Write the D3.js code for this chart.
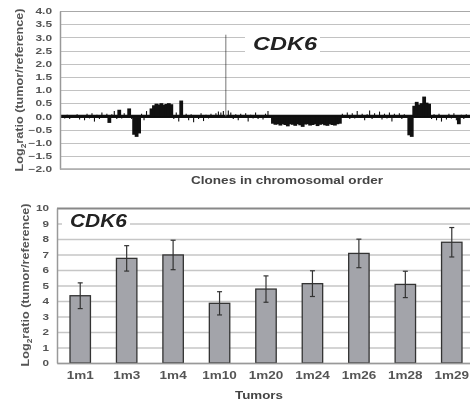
<!DOCTYPE html>
<html>
<head>
<meta charset="utf-8">
<script src="https://cdn.jsdelivr.net/npm/d3@7"></script>
<style>
  body { margin: 0; background: #fff; }
  svg { display: block; font-family: Arial, "Liberation Sans", sans-serif; }
  .axis .tick text { font-weight: bold; fill: #555; }
</style>
</head>
<body>
<script>
// top panel: log2 ratio per clone, in chromosomal order
var cloneLog2 = [
  0.05, -0.08, 0.06, -0.1, 0.04, -0.06, 0.08, -0.12, 0.05, -0.15, 0.1, -0.08, 0.12, -0.2, 0.06,
  -0.1, 0.15, -0.05, 0.1, -0.25, 0.08, 0.2, -0.1, 0.25, -0.08, 0.12, -0.06, 0.3, -0.1,
  -0.7, -0.78, -0.65,
  0.1, -0.15, 0.2, 0.05,
  0.3, 0.42, 0.48, 0.45, 0.5, 0.44, 0.47, 0.5, 0.46,
  -0.1, 0.15, -0.2, 0.6, -0.05, 0.1, -0.15, 0.08, -0.22, 0.05, -0.1, 0.12, -0.18, 0.06, -0.08, 0.1, -0.05,
  0.12, 0.18, 0.15, 0.2, 3.1, 0.22, 0.15,
  -0.1, 0.08, -0.15, 0.1, -0.05, 0.12, -0.2, 0.06, -0.08, 0.15, -0.1, 0.05, -0.12, 0.1, 0.2, -0.05,
  -0.28, -0.32, -0.3, -0.35, -0.3, -0.33, -0.38, -0.3, -0.32, -0.36, -0.3, -0.34, -0.4, -0.31,
  -0.3, -0.35, -0.33, -0.3, -0.37, -0.32, -0.3, -0.34, -0.36, -0.3, -0.33, -0.35, -0.3, -0.28,
  0.1, -0.05, 0.15, -0.1, 0.12, -0.08, 0.2, -0.06, 0.1, -0.15, 0.08, 0.22, -0.1, 0.12, -0.05,
  0.18, -0.12, 0.1, -0.08, 0.15, -0.2, 0.1, -0.05, 0.12, -0.1, 0.08, -0.06,
  -0.72, -0.78,
  0.4, 0.55, 0.45, 0.5, 0.75, 0.52, 0.48,
  -0.1, 0.08, -0.15, 0.1, -0.2, 0.05, -0.12, 0.1, -0.08, 0.12, -0.15, -0.3, 0.06, -0.1, 0.08, -0.05
];
var topTicks = [-2, -1.5, -1, -0.5, 0, 0.5, 1, 1.5, 2, 2.5, 3, 3.5, 4];

// bottom panel: mean log2 ratio per tumor with error
var tumors = ["1m1", "1m3", "1m4", "1m10", "1m20", "1m24", "1m26", "1m28", "1m29"];
var tumorMeans = [4.34, 6.75, 6.97, 3.85, 4.77, 5.12, 7.07, 5.07, 7.79];
var tumorErrors = [0.83, 0.82, 0.95, 0.75, 0.85, 0.83, 0.92, 0.85, 0.95];
var bottomTicks = [0, 1, 2, 3, 4, 5, 6, 7, 8, 9, 10];

var w = 470, h = 401;

// the original figure is a bit stretched sideways, widen the text to match
function stretch(sel, k) {
  sel.each(function () {
    var len = this.getComputedTextLength();
    d3.select(this).attr("textLength", len * k).attr("lengthAdjust", "spacingAndGlyphs");
  });
}

var svg = d3.select("body").append("svg")
  .attr("width", w)
  .attr("height", h);

// ---------- top panel ----------
var tp = { left: 60, right: 470, top: 11, bottom: 169 };

var xTop = d3.scaleLinear()
  .domain([0, cloneLog2.length])
  .range([tp.left + 1, tp.right]);

var yTop = d3.scaleLinear()
  .domain([-2, 4])
  .range([tp.bottom, tp.top]);

var gTop = svg.append("g");

gTop.append("line")
  .attr("x1", tp.left).attr("x2", tp.right)
  .attr("y1", yTop(0)).attr("y2", yTop(0))
  .attr("stroke", "#111").attr("stroke-width", 3.2);

// clones as vertical strokes from 0
gTop.selectAll("line.clone")
  .data(cloneLog2)
  .enter()
  .append("line")
  .attr("class", "clone")
  .attr("x1", function (d, i) { return xTop(i + 0.5); })
  .attr("x2", function (d, i) { return xTop(i + 0.5); })
  .attr("y1", yTop(0))
  .attr("y2", function (d) { return yTop(d); })
  .attr("stroke", function (d) { return d > 1 ? "#777" : "#111"; })
  .attr("stroke-width", function (d) {
    if (d > 1) return 1;
    return Math.abs(d) >= 0.25 ? 3.8 : 1.1;
  });

// gridlines on top of the profile, multiplied so dark marks stay dark
gTop.append("g")
  .style("mix-blend-mode", "multiply")
  .selectAll("line")
  .data(topTicks)
  .enter()
  .append("line")
  .attr("x1", tp.left)
  .attr("x2", tp.right)
  .attr("y1", function (d) { return Math.round(yTop(d)) + 0.5; })
  .attr("y2", function (d) { return Math.round(yTop(d)) + 0.5; })
  .attr("stroke", function (d) { return d === 4 ? "#a8a8a8" : "#c2c2c2"; })
  .attr("stroke-width", 1.2);

// white box behind CDK6 label
gTop.append("rect")
  .attr("x", 245).attr("y", 29)
  .attr("width", 75).attr("height", 27)
  .attr("fill", "#fff");

// axes
var yAxisTop = d3.axisLeft(yTop)
  .tickValues(topTicks)
  .tickSize(0)
  .tickPadding(8)
  .tickFormat(d3.format(".1f"));

gTop.append("g")
  .attr("class", "axis")
  .attr("transform", "translate(" + tp.left + ",0)")
  .call(yAxisTop)
  .call(function (g) {
    g.select(".domain").attr("stroke", "#999").attr("stroke-width", 1.5);
    g.selectAll("text").attr("font-size", 8.5).call(stretch, 1.4);
  });

gTop.append("line")
  .attr("x1", tp.left).attr("x2", tp.right)
  .attr("y1", tp.bottom).attr("y2", tp.bottom)
  .attr("stroke", "#aaa").attr("stroke-width", 1.5);

gTop.append("text")
  .attr("x", 253).attr("y", 50)
  .attr("font-size", 18).attr("font-weight", "bold").attr("font-style", "italic")
  .attr("textLength", 64).attr("lengthAdjust", "spacingAndGlyphs")
  .attr("fill", "#222")
  .text("CDK6");

gTop.append("text")
  .attr("x", 287).attr("y", 184)
  .attr("text-anchor", "middle")
  .attr("font-size", 10.5).attr("font-weight", "bold")
  .attr("fill", "#444")
  .attr("textLength", 192).attr("lengthAdjust", "spacingAndGlyphs")
  .text("Clones in chromosomal order");

var titleTop = gTop.append("text")
  .attr("transform", "translate(23,90) rotate(-90)")
  .attr("text-anchor", "middle")
  .attr("font-size", 10.5).attr("font-weight", "bold")
  .attr("fill", "#555");
titleTop.append("tspan").text("Log");
titleTop.append("tspan").attr("font-size", 7).attr("dy", 3).text("2");
titleTop.append("tspan").attr("dy", -3).text("ratio (tumor/reference)");
stretch(titleTop, 1.2);

// ---------- bottom panel ----------
var b = { left: 57, right: 475, top: 208, bottom: 363 };

var xBot = d3.scaleBand()
  .domain(tumors)
  .range([b.left, b.right])
  .paddingInner(0.56)
  .paddingOuter(0.28);

var yBot = d3.scaleLinear()
  .domain([0, 10])
  .range([b.bottom, b.top]);

var gBot = svg.append("g");

gBot.append("g")
  .attr("class", "gridBot")
  .attr("transform", "translate(" + b.left + ",0)")
  .call(d3.axisLeft(yBot).tickValues(bottomTicks).tickSize(-(w - b.left)).tickFormat(""))
  .call(function (g) {
    g.select(".domain").remove();
    g.selectAll(".tick line")
      .attr("stroke", function (d) { return d === 10 ? "#888" : "#c6c6c6"; })
      .attr("stroke-width", function (d) { return d === 10 ? 2 : 1.3; });
  });

gBot.append("rect")
  .attr("x", 62).attr("y", 212)
  .attr("width", 68).attr("height", 20)
  .attr("fill", "#fff");

gBot.selectAll("rect.bar")
  .data(tumorMeans)
  .enter()
  .append("rect")
  .attr("class", "bar")
  .attr("x", function (d, i) { return xBot(tumors[i]); })
  .attr("y", function (d) { return yBot(d); })
  .attr("width", xBot.bandwidth())
  .attr("height", function (d) { return yBot(0) - yBot(d); })
  .attr("fill", "#a3a4aa")
  .attr("stroke", "#333")
  .attr("stroke-width", 1.3);

var err = gBot.selectAll("g.err")
  .data(tumorMeans)
  .enter()
  .append("g")
  .attr("class", "err")
  .attr("stroke", "#333")
  .attr("stroke-width", 1.2);

err.append("line")
  .attr("x1", function (d, i) { return xBot(tumors[i]) + xBot.bandwidth() / 2; })
  .attr("x2", function (d, i) { return xBot(tumors[i]) + xBot.bandwidth() / 2; })
  .attr("y1", function (d, i) { return yBot(d + tumorErrors[i]); })
  .attr("y2", function (d, i) { return yBot(d - tumorErrors[i]); });

[1, -1].forEach(function (s) {
  err.append("line")
    .attr("x1", function (d, i) { return xBot(tumors[i]) + xBot.bandwidth() / 2 - 2.5; })
    .attr("x2", function (d, i) { return xBot(tumors[i]) + xBot.bandwidth() / 2 + 2.5; })
    .attr("y1", function (d, i) { return yBot(d + s * tumorErrors[i]); })
    .attr("y2", function (d, i) { return yBot(d + s * tumorErrors[i]); });
});

var yAxisBot = d3.axisLeft(yBot)
  .tickValues(bottomTicks)
  .tickSize(0)
  .tickPadding(8);

gBot.append("g")
  .attr("class", "axis")
  .attr("transform", "translate(" + b.left + ",0)")
  .call(yAxisBot)
  .call(function (g) {
    g.select(".domain").attr("stroke", "#999").attr("stroke-width", 1.5);
    g.selectAll("text").attr("font-size", 9).call(stretch, 1.3);
  });

var xAxisBot = d3.axisBottom(xBot).tickSize(0).tickPadding(9);

gBot.append("g")
  .attr("class", "axis")
  .attr("transform", "translate(0," + b.bottom + ")")
  .call(xAxisBot)
  .call(function (g) {
    g.select(".domain").attr("stroke", "#999").attr("stroke-width", 1.5);
    g.selectAll("text").attr("font-size", 10).attr("fill", "#444").call(stretch, 1.35);
  });

gBot.append("text")
  .attr("x", 70).attr("y", 227)
  .attr("font-size", 18).attr("font-weight", "bold").attr("font-style", "italic")
  .attr("textLength", 57).attr("lengthAdjust", "spacingAndGlyphs")
  .attr("fill", "#222")
  .text("CDK6");

gBot.append("text")
  .attr("x", 259).attr("y", 399)
  .attr("text-anchor", "middle")
  .attr("font-size", 10.5).attr("font-weight", "bold")
  .attr("fill", "#444")
  .attr("textLength", 48).attr("lengthAdjust", "spacingAndGlyphs")
  .text("Tumors");

var titleBot = gBot.append("text")
  .attr("transform", "translate(29,285) rotate(-90)")
  .attr("text-anchor", "middle")
  .attr("font-size", 10.5).attr("font-weight", "bold")
  .attr("fill", "#555");
titleBot.append("tspan").text("Log");
titleBot.append("tspan").attr("font-size", 7).attr("dy", 3).text("2");
titleBot.append("tspan").attr("dy", -3).text("ratio (tumor/reference)");
stretch(titleBot, 1.2);
</script>
</body>
</html>
